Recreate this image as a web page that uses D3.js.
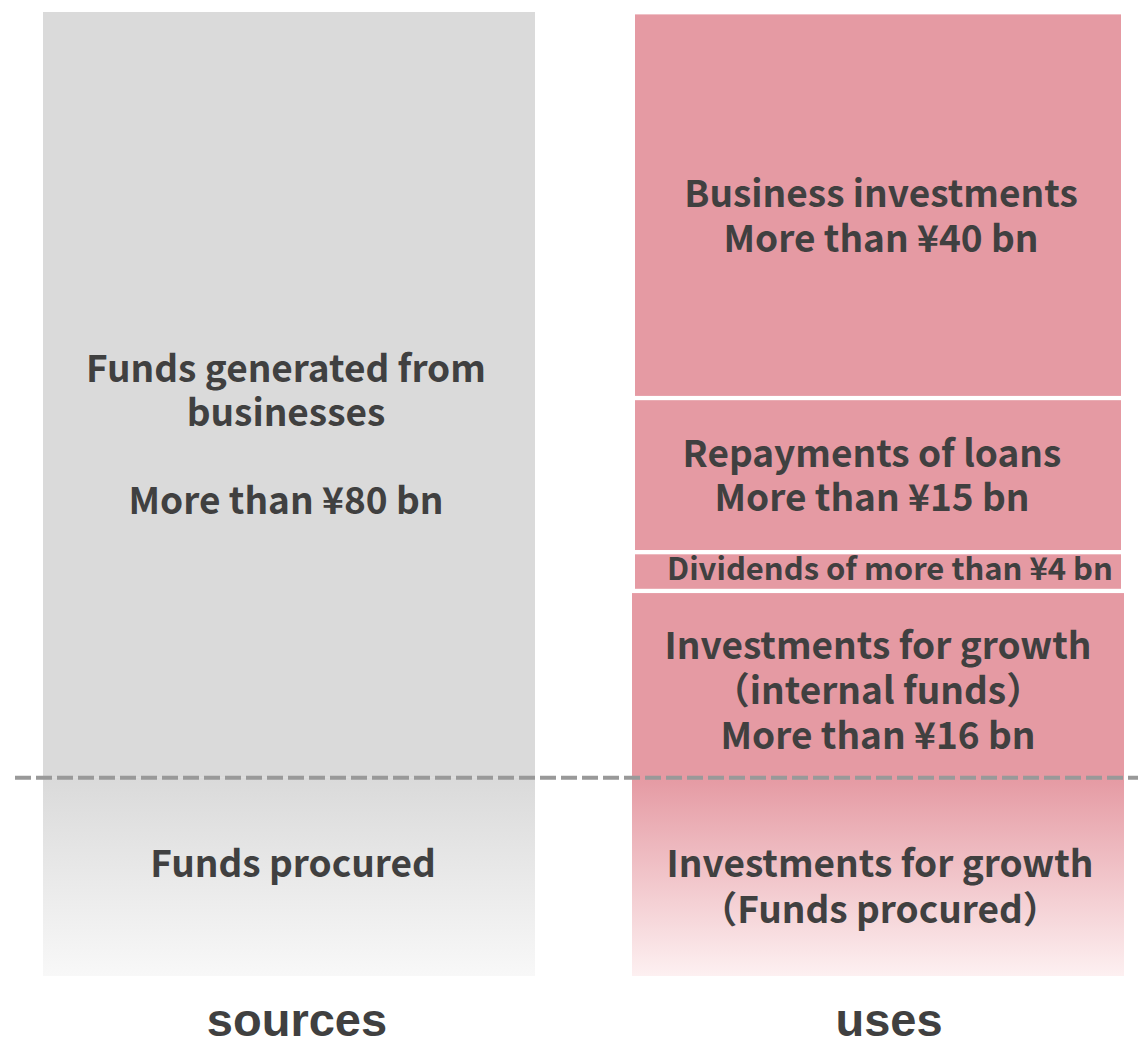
<!DOCTYPE html>
<html>
<head>
<meta charset="utf-8">
<script src="https://cdn.jsdelivr.net/npm/d3@7"></script>
<style>
  body { margin: 0; background: #fff; }
  text { font-family: "Noto Sans CJK JP", "Noto Sans", sans-serif; font-weight: bold; fill: #404040; }
</style>
</head>
<body>
<script>

// columns
var columns = ["sources", "uses"]

// sources, bottom to top, in diagram units (roughly ¥bn)
var sourceNames = ["procured", "generated"]
var sourceValues = [20.7, 80]
var sourceLabels = [["Funds procured"], ["Funds generated from", "businesses", "", "More than ¥80 bn"]]

// uses, bottom to top (gap = white space under the block)
var useNames = ["growthProcured", "growthInternal", "dividends", "repayments", "business"]
var useValues = [20.7, 19.3, 3.55, 15.6, 39.8]
var useGaps = [0, 0, 0.5, 0.5, 0.5]
var useLabels = [
  ["Investments for growth", "（Funds procured）"],
  ["Investments for growth", "（internal funds）", "More than ¥16 bn"],
  ["Dividends of more than ¥4 bn"],
  ["Repayments of loans", "More than ¥15 bn"],
  ["Business investments", "More than ¥40 bn"]
]

var W = 1138, H = 1039

var svg = d3.select("body").append("svg")
  .attr("width", W)
  .attr("height", H)

var defs = svg.append("defs")

function fade(id, from, to) {
  var g = defs.append("linearGradient")
    .attr("id", id)
    .attr("x1", 0).attr("y1", 0).attr("x2", 0).attr("y2", 1)
  g.append("stop").attr("offset", "0%").attr("stop-color", from)
  g.append("stop").attr("offset", "100%").attr("stop-color", to)
}
fade("grayFade", "#dadada", "#f8f8f8")
fade("pinkFade", "#e59aa3", "#fdf0f1")

// vertical scale
var total = d3.sum(sourceValues)
var y = d3.scaleLinear()
  .domain([0, total])
  .range([976, 12])

// stack the blocks
var sources = []
var acc = 0
sourceValues.forEach(function(v, i) {
  sources.push({ name: sourceNames[i], y0: acc, y1: acc + v, lines: sourceLabels[i] })
  acc += v
})

var uses = []
acc = 0
useValues.forEach(function(v, i) {
  acc += useGaps[i]
  uses.push({ name: useNames[i], y0: acc, y1: acc + v, lines: useLabels[i] })
  acc += v
})

var srcX = 43, srcW = 492
var useX = 635, useW = 486

// sources column
svg.selectAll("rect.src")
  .data(sources)
  .enter()
  .append("rect")
  .attr("class", "src")
  .attr("x", srcX)
  .attr("width", srcW)
  .attr("y", function(d) { return y(d.y1) })
  .attr("height", function(d) { return y(d.y0) - y(d.y1) })
  .attr("fill", function(d) {
    return d.name == "procured" ? "url(#grayFade)" : "#dadada"
  })

// uses column, growth blocks a bit wider
svg.selectAll("rect.use")
  .data(uses)
  .enter()
  .append("rect")
  .attr("class", "use")
  .attr("x", function(d) { return d.name.indexOf("growth") == 0 ? useX - 3 : useX })
  .attr("width", function(d) { return d.name.indexOf("growth") == 0 ? useW + 6 : useW })
  .attr("y", function(d) { return y(d.y1) })
  .attr("height", function(d) { return y(d.y0) - y(d.y1) + (d.name == "growthProcured" ? 0 : 0.5) })
  .attr("fill", function(d) {
    return d.name == "growthProcured" ? "url(#pinkFade)" : "#e59aa3"
  })

// dashed split line
svg.append("line")
  .attr("x1", 15)
  .attr("x2", W)
  .attr("y1", y(sourceValues[0]))
  .attr("y2", y(sourceValues[0]))
  .attr("stroke", "#999999")
  .attr("stroke-width", 4)
  .attr("stroke-dasharray", "16 5")

// labels
var labelPos = {
  generated: { x: 286, base: 382, lh: 44, size: 37 },
  procured: { x: 293, base: 877, lh: 45, size: 37 },
  business: { x: 881, base: 207, lh: 45, size: 37 },
  repayments: { x: 872, base: 467, lh: 44, size: 37 },
  dividends: { x: 890, base: 580, lh: 0, size: 31 },
  growthInternal: { x: 878, base: 659, lh: 45, size: 37 },
  growthProcured: { x: 880, base: 877, lh: 46, size: 37 }
}

svg.selectAll("g.label")
  .data(sources.concat(uses))
  .enter()
  .append("g")
  .attr("class", "label")
  .each(function(d) {
    var p = labelPos[d.name]
    d3.select(this)
      .selectAll("text")
      .data(d.lines)
      .enter()
      .append("text")
      .attr("x", p.x)
      .attr("y", function(t, i) { return p.base + i * p.lh })
      .attr("text-anchor", "middle")
      .attr("font-size", p.size)
      .text(function(t) { return t })
  })

// column titles
var colX = d3.scalePoint()
  .domain(columns)
  .range([297, 889])

svg.selectAll("text.col")
  .data(columns)
  .enter()
  .append("text")
  .attr("class", "col")
  .attr("x", function(d) { return colX(d) })
  .attr("y", 1036)
  .attr("text-anchor", "middle")
  .style("font-family", "'Liberation Sans', Arial, sans-serif")
  .attr("font-size", 47)
  .text(function(d) { return d })

</script>
</body>
</html>
